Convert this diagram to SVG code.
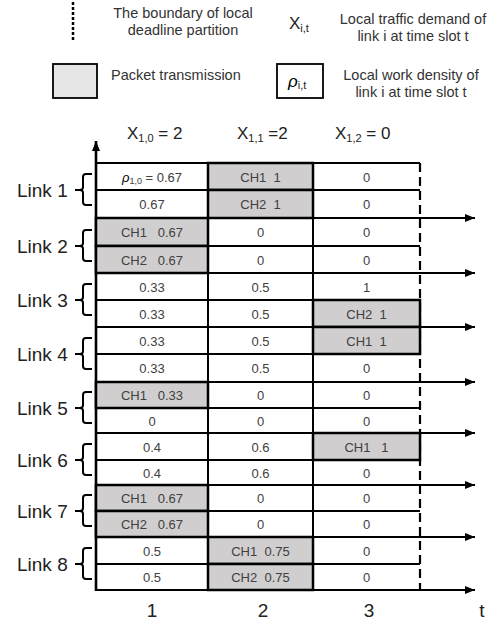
<svg xmlns="http://www.w3.org/2000/svg" width="500" height="625" viewBox="0 0 500 625">
<defs>
<marker id="ah" markerUnits="userSpaceOnUse" markerWidth="12" markerHeight="10" refX="10" refY="4" orient="auto">
<path d="M0,0 L10,4 L0,8 Z" fill="#000"/>
</marker>
<style>
text{font-family:"Liberation Sans",Arial,sans-serif;}
.lg{font-size:14.5px;fill:#333;}
.hd{font-size:17px;fill:#222;}
.lk{font-size:19px;fill:#222;}
.ax{font-size:19px;fill:#222;}
.c{font-size:13px;fill:#404040;text-anchor:middle;white-space:pre;}
.gl{stroke:#000;stroke-width:2;fill:none;}
.ar{stroke:#000;stroke-width:2.2;fill:none;marker-end:url(#ah);}
.gc{fill:#d0cece;stroke:#000;stroke-width:2.5;}
.br{stroke:#000;stroke-width:2;fill:none;stroke-linejoin:round;}
</style>
</defs>
<rect width="500" height="625" fill="#fff"/>

<g id="legend">
<line x1="73" y1="2" x2="73" y2="40" stroke="#000" stroke-width="2.5" stroke-dasharray="3 2"/>
<text class="lg" x="183" y="18" text-anchor="middle">The boundary of local</text>
<text class="lg" x="183" y="35" text-anchor="middle">deadline partition</text>
<text x="289" y="29" style="font-size:17px;fill:#222">X<tspan dy="3" style="font-size:11px">i,t</tspan></text>
<text class="lg" x="413" y="24" text-anchor="middle">Local traffic demand of</text>
<text class="lg" x="413" y="41" text-anchor="middle">link i at time slot t</text>
<rect x="53" y="64" width="44" height="34" fill="#e7e6e6" stroke="#000" stroke-width="1.8"/>
<text class="lg" x="111" y="80">Packet transmission</text>
<rect x="277" y="64" width="46" height="34" fill="#fff" stroke="#000" stroke-width="1.8"/>
<text x="288" y="87" style="font-size:17px;fill:#000;font-style:italic">ρ<tspan dy="2" style="font-size:11px;font-style:normal;fill:#222">i,t</tspan></text>
<text class="lg" x="411" y="80" text-anchor="middle">Local work density of</text>
<text class="lg" x="411" y="97" text-anchor="middle">link i at time slot t</text>
</g>

<g id="headers">
<text class="hd" x="127" y="139">X<tspan dy="3" style="font-size:11px">1,0</tspan><tspan dy="-3"> = 2</tspan></text>
<text class="hd" x="237" y="139">X<tspan dy="3" style="font-size:11px">1,1</tspan><tspan dy="-3"> =2</tspan></text>
<text class="hd" x="335" y="139">X<tspan dy="3" style="font-size:11px">1,2</tspan><tspan dy="-3"> = 0</tspan></text>
</g>

<g id="connectors">
<line class="gl" x1="96" y1="163" x2="420" y2="163"/>
<line class="gl" x1="96" y1="190" x2="420" y2="190"/>
<line class="gl" x1="96" y1="246" x2="420" y2="246"/>
<line class="gl" x1="96" y1="300" x2="420" y2="300"/>
<line class="gl" x1="96" y1="354" x2="420" y2="354"/>
<line class="gl" x1="96" y1="408" x2="420" y2="408"/>
<line class="gl" x1="96" y1="460" x2="420" y2="460"/>
<line class="gl" x1="96" y1="511" x2="420" y2="511"/>
<line class="gl" x1="96" y1="564" x2="420" y2="564"/>
<line class="gl" x1="208" y1="163" x2="208" y2="590"/>
<line class="gl" x1="313" y1="163" x2="313" y2="590"/>
<line class="ar" x1="96" y1="218" x2="475" y2="218"/>
<line class="ar" x1="96" y1="273" x2="475" y2="273"/>
<line class="ar" x1="96" y1="327" x2="475" y2="327"/>
<line class="ar" x1="96" y1="382" x2="475" y2="382"/>
<line class="ar" x1="96" y1="433" x2="475" y2="433"/>
<line class="ar" x1="96" y1="485" x2="475" y2="485"/>
<line class="ar" x1="96" y1="537" x2="475" y2="537"/>
<line class="ar" x1="96" y1="590" x2="475" y2="590"/>
<line x1="96" y1="591" x2="96" y2="141" stroke="#000" stroke-width="2.6" marker-end="url(#ah)"/>
<line x1="420" y1="163" x2="420" y2="590" stroke="#000" stroke-width="2.2" stroke-dasharray="9 5"/>
</g>

<g id="cells">
<rect class="gc" x="208" y="163" width="105" height="27"/>
<rect class="gc" x="208" y="190" width="105" height="28"/>
<rect class="gc" x="96" y="218" width="112" height="28"/>
<rect class="gc" x="96" y="246" width="112" height="27"/>
<rect class="gc" x="313" y="300" width="107" height="27"/>
<rect class="gc" x="313" y="327" width="107" height="27"/>
<rect class="gc" x="96" y="382" width="112" height="26"/>
<rect class="gc" x="313" y="433" width="107" height="27"/>
<rect class="gc" x="96" y="485" width="112" height="26"/>
<rect class="gc" x="96" y="511" width="112" height="26"/>
<rect class="gc" x="208" y="537" width="105" height="27"/>
<rect class="gc" x="208" y="564" width="105" height="26"/>
</g>

<g id="link1">
<text class="lk" x="17" y="197">Link 1</text>
<path class="br" d="M92,174 L86,174 Q83,174 83,177 L83,187 Q83,190 80,190 L75,190 M80,190 Q83,190 83,193 L83,202 Q83,205 86,205 L92,205"/>
<text class="c" x="152" y="181.5"><tspan style="font-style:italic;fill:#000">ρ</tspan><tspan dy="2" style="font-size:9px">1,0</tspan><tspan dy="-2"> = 0.67</tspan></text>
<text class="c" x="260.5" y="181.5">CH1  1</text>
<text class="c" x="366.5" y="181.5">0</text>
<text class="c" x="152" y="209">0.67</text>
<text class="c" x="260.5" y="209">CH2  1</text>
<text class="c" x="366.5" y="209">0</text>
</g>

<g id="link2">
<text class="lk" x="17" y="253">Link 2</text>
<path class="br" d="M92,230 L86,230 Q83,230 83,233 L83,243 Q83,246 80,246 L75,246 M80,246 Q83,246 83,249 L83,258 Q83,261 86,261 L92,261"/>
<text class="c" x="152" y="237">CH1   0.67</text>
<text class="c" x="260.5" y="237">0</text>
<text class="c" x="366.5" y="237">0</text>
<text class="c" x="152" y="264.5">CH2   0.67</text>
<text class="c" x="260.5" y="264.5">0</text>
<text class="c" x="366.5" y="264.5">0</text>
</g>

<g id="link3">
<text class="lk" x="17" y="307">Link 3</text>
<path class="br" d="M92,284 L86,284 Q83,284 83,287 L83,297 Q83,300 80,300 L75,300 M80,300 Q83,300 83,303 L83,312 Q83,315 86,315 L92,315"/>
<text class="c" x="152" y="291.5">0.33</text>
<text class="c" x="260.5" y="291.5">0.5</text>
<text class="c" x="366.5" y="291.5">1</text>
<text class="c" x="152" y="318.5">0.33</text>
<text class="c" x="260.5" y="318.5">0.5</text>
<text class="c" x="366.5" y="318.5">CH2  1</text>
</g>

<g id="link4">
<text class="lk" x="17" y="361">Link 4</text>
<path class="br" d="M92,338 L86,338 Q83,338 83,341 L83,351 Q83,354 80,354 L75,354 M80,354 Q83,354 83,357 L83,366 Q83,369 86,369 L92,369"/>
<text class="c" x="152" y="345.5">0.33</text>
<text class="c" x="260.5" y="345.5">0.5</text>
<text class="c" x="366.5" y="345.5">CH1  1</text>
<text class="c" x="152" y="373">0.33</text>
<text class="c" x="260.5" y="373">0.5</text>
<text class="c" x="366.5" y="373">0</text>
</g>

<g id="link5">
<text class="lk" x="17" y="415">Link 5</text>
<path class="br" d="M92,392 L86,392 Q83,392 83,395 L83,405 Q83,408 80,408 L75,408 M80,408 Q83,408 83,411 L83,420 Q83,423 86,423 L92,423"/>
<text class="c" x="152" y="400">CH1   0.33</text>
<text class="c" x="260.5" y="400">0</text>
<text class="c" x="366.5" y="400">0</text>
<text class="c" x="152" y="425.5">0</text>
<text class="c" x="260.5" y="425.5">0</text>
<text class="c" x="366.5" y="425.5">0</text>
</g>

<g id="link6">
<text class="lk" x="17" y="467">Link 6</text>
<path class="br" d="M92,444 L86,444 Q83,444 83,447 L83,457 Q83,460 80,460 L75,460 M80,460 Q83,460 83,463 L83,472 Q83,475 86,475 L92,475"/>
<text class="c" x="152" y="451.5">0.4</text>
<text class="c" x="260.5" y="451.5">0.6</text>
<text class="c" x="366.5" y="451.5">CH1   1</text>
<text class="c" x="152" y="477.5">0.4</text>
<text class="c" x="260.5" y="477.5">0.6</text>
<text class="c" x="366.5" y="477.5">0</text>
</g>

<g id="link7">
<text class="lk" x="17" y="518">Link 7</text>
<path class="br" d="M92,495 L86,495 Q83,495 83,498 L83,508 Q83,511 80,511 L75,511 M80,511 Q83,511 83,514 L83,523 Q83,526 86,526 L92,526"/>
<text class="c" x="152" y="503">CH1   0.67</text>
<text class="c" x="260.5" y="503">0</text>
<text class="c" x="366.5" y="503">0</text>
<text class="c" x="152" y="529">CH2   0.67</text>
<text class="c" x="260.5" y="529">0</text>
<text class="c" x="366.5" y="529">0</text>
</g>

<g id="link8">
<text class="lk" x="17" y="571">Link 8</text>
<path class="br" d="M92,548 L86,548 Q83,548 83,551 L83,561 Q83,564 80,564 L75,564 M80,564 Q83,564 83,567 L83,576 Q83,579 86,579 L92,579"/>
<text class="c" x="152" y="555.5">0.5</text>
<text class="c" x="260.5" y="555.5">CH1  0.75</text>
<text class="c" x="366.5" y="555.5">0</text>
<text class="c" x="152" y="582">0.5</text>
<text class="c" x="260.5" y="582">CH2  0.75</text>
<text class="c" x="366.5" y="582">0</text>
</g>

<g id="axis-labels">
<text class="ax" x="152" y="617" text-anchor="middle">1</text>
<text class="ax" x="263" y="617" text-anchor="middle">2</text>
<text class="ax" x="369" y="617" text-anchor="middle">3</text>
<text class="ax" x="482" y="617" text-anchor="middle">t</text>
</g>
</svg>
